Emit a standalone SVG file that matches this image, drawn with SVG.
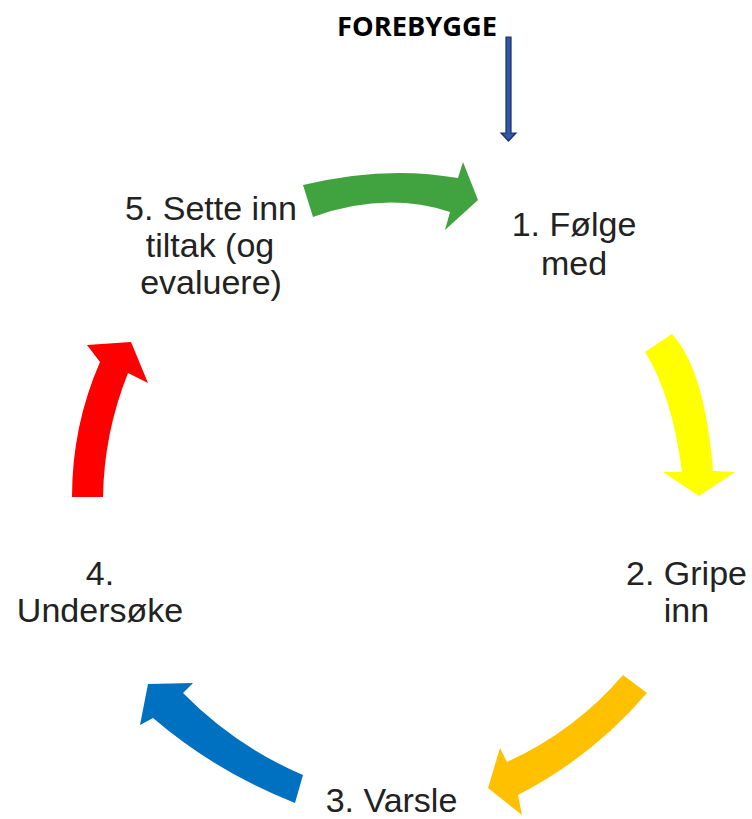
<svg xmlns="http://www.w3.org/2000/svg" width="752" height="819" viewBox="0 0 752 819">
<style>
.lbl{font-family:"Liberation Sans",Arial,sans-serif;font-size:34px;fill:#222;text-anchor:middle}
.title{font-family:"Open Sans","Liberation Sans",sans-serif;font-weight:bold;font-size:26px;fill:#000}
</style>
<rect width="752" height="819" fill="#fff"/>
<g id="connectors">
<path id="arrow-green" d="M303,185 Q385,165 458,178 L463,162 L478,200 L445,230 L450,212 Q385,191 313,217 Z" fill="#41a33f"/>
<path id="arrow-yellow" d="M672,334 Q705,370 713,471 L735,472 L699,496 L663,472 L682,472 Q672,395 645,352 Z" fill="#ffff00"/>
<path id="arrow-orange" d="M623,675 Q575,731 507,762 L500,748 L488,788 L522,815 L518,795 Q592,757 647,693 Z" fill="#ffc000"/>
<path id="arrow-blue" d="M303,775 Q235,746 183,693 L193,683 L148,684 L140,725 L153,718 Q216,772 295,803 Z" fill="#0070c0"/>
<path id="arrow-red" d="M72,497 Q72,426 100,362 L87,345 L131,342 L148,383 L128,373 Q104,433 103,497 Z" fill="#ff0000"/>
<path id="arrow-forebygge" d="M506,37 L511,37 L511,133 L516,133 L508.5,141 L501,133 L506,133 Z" fill="#2e59a8" stroke="#1c2f5c" stroke-width="1.2" stroke-linejoin="miter"/>
</g>
<g id="node-forebygge"><text class="title" x="337" y="36" textLength="160" lengthAdjust="spacingAndGlyphs">FOREBYGGE</text></g>
<g id="node-1"><text class="lbl" x="574" y="236">1. Følge</text><text class="lbl" x="574" y="275">med</text></g>
<g id="node-2"><text class="lbl" x="686.5" y="585">2. Gripe</text><text class="lbl" x="686.5" y="622">inn</text></g>
<g id="node-3"><text class="lbl" x="391.5" y="812">3. Varsle</text></g>
<g id="node-4"><text class="lbl" x="100" y="585">4.</text><text class="lbl" x="100" y="622">Undersøke</text></g>
<g id="node-5"><text class="lbl" x="211" y="220">5. Sette inn</text><text class="lbl" x="210" y="257">tiltak (og</text><text class="lbl" x="211" y="294">evaluere)</text></g>
</svg>
